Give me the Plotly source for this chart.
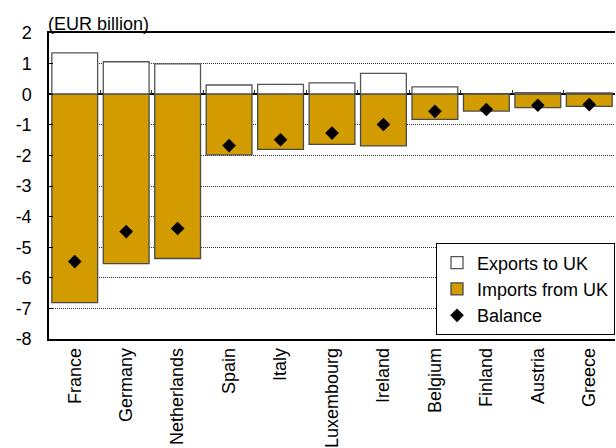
import plotly.graph_objects as go

countries = ["France", "Germany", "Netherlands", "Spain", "Italy", "Luxembourg",
             "Ireland", "Belgium", "Finland", "Austria", "Greece"]
exports_to_uk = [1.35, 1.06, 0.99, 0.30, 0.32, 0.37, 0.68, 0.24, 0.02, 0.05, 0.04]
imports_from_uk = [-6.81, -5.54, -5.37, -1.98, -1.80, -1.64, -1.69, -0.82, -0.55, -0.44, -0.40]
balance = [-5.47, -4.49, -4.39, -1.68, -1.49, -1.27, -0.99, -0.56, -0.50, -0.36, -0.34]
y_ticks = [2, 1, 0, -1, -2, -3, -4, -5, -6, -7, -8]
y_ticktext = [str(v) for v in y_ticks]

GOLD = "#D29B00"
FONT = "Liberation Sans, Arial, sans-serif"
FS = 18

fig = go.Figure()
fig.add_trace(go.Bar(x=countries, y=exports_to_uk, name="Exports to UK",
                     marker=dict(color="white", line=dict(color="#555555", width=1.3))))
fig.add_trace(go.Bar(x=countries, y=imports_from_uk, name="Imports from UK",
                     marker=dict(color=GOLD, line=dict(color="#4a4a4a", width=1.3))))
fig.add_trace(go.Scatter(x=countries, y=balance, name="Balance", mode="markers",
                         xaxis="x2",
                         marker=dict(symbol="diamond", size=10.5, color="black")))

fig.update_layout(
    width=616, height=448,
    margin=dict(l=49, r=1, t=33, b=109),
    paper_bgcolor="white", plot_bgcolor="white",
    barmode="relative", bargap=0.11,
    font=dict(family=FONT, size=FS, color="black"),
    showlegend=True,
    legend=dict(x=1, xanchor="right", y=0.012, yanchor="bottom",
                bordercolor="black", borderwidth=1, bgcolor="white",
                font=dict(size=FS), itemwidth=30, tracegroupgap=0,
                traceorder="normal"),
    xaxis=dict(type="category", categoryorder="array", categoryarray=countries,
               range=[-0.5, len(countries) - 0.5],
               showline=True, linecolor="black", linewidth=1.5, mirror=True,
               ticks="", tickangle=-90, showgrid=False,
               tickfont=dict(size=FS)),
    xaxis2=dict(type="category", categoryorder="array", categoryarray=countries,
                range=[-0.5, len(countries) - 0.5],
                overlaying="x", anchor="free", position=0.8,
                showline=False, showgrid=False, showticklabels=False,
                ticks="inside", tickson="boundaries", ticklen=4,
                tickcolor="#333333", tickwidth=1, layer="above traces"),
    yaxis=dict(range=[-8, 2], tickvals=y_ticks, ticktext=y_ticktext,
               showline=True, linecolor="black", linewidth=1.5,
               ticks="inside", ticklen=4, tickcolor="black",
               showgrid=True, gridcolor="#333333", griddash="1px,1px", gridwidth=1,
               zeroline=True, zerolinecolor="black", zerolinewidth=1.5,
               ticklabelstandoff=12, tickfont=dict(size=FS)),
    annotations=[dict(text="(EUR billion)", xref="paper", yref="paper",
                      x=0, y=1, xanchor="left", yanchor="bottom",
                      showarrow=False, font=dict(size=FS), xshift=-3, yshift=-3)],
)

fig.write_html("out.html")
